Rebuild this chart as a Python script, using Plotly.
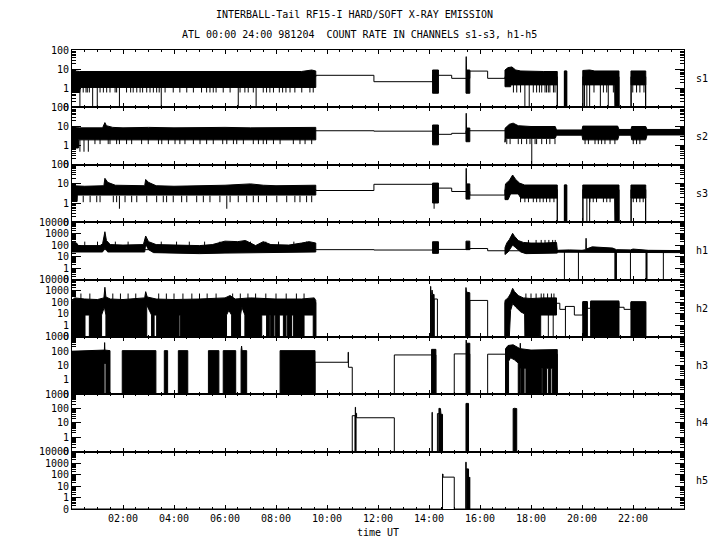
import plotly.graph_objects as go
from plotly.subplots import make_subplots

# ---------------- DATA (hours UT, count rates; 0 = no counts) ----------------
panels = ['s1', 's2', 's3', 'h1', 'h2', 'h3', 'h4', 'h5']
top_decade = [2, 2, 2, 4, 4, 3, 3, 4]

# ---- s1 ----
s1_step_t = [0, 9.56, 11.84, 14.14, 14.37, 14.89, 15.45, 15.6, 16.3, 16.98, 19.03, 19.31, 19.40, 20.03, 21.45, 21.92, 22.5, 24]
s1_step_v = [4, 4.75, 2.2, 4.75, 4.75, 3.3, 3.3, 7.9, 3.3, 4, 0, 7.9, 0, 4, 0, 4, 0, 0]
s1_up_t = [0, 0.1, 0.3, 0.8, 1.3, 2.0, 3.0, 4.0, 5.0, 6.0, 7.0, 8.0, 9.0, 9.4, 9.56, None,
           14.14, 14.37, None,
           15.45, 15.46, 15.47, 15.6, None,
           16.98, 17.1, 17.25, 17.4, 17.6, 18.0, 18.5, 19.03, None,
           19.31, 19.40, None,
           20.03, 20.3, 20.5, 21.0, 21.45, None,
           21.92, 22.5]
s1_up_v = [10, 8, 7.5, 7.5, 8, 7.5, 7.5, 7.5, 7.5, 8, 7.5, 7.5, 7.5, 9, 8, None,
           9, 9, None,
           9, 45, 9, 9, None,
           9, 12, 13, 9, 8, 7.5, 7.5, 7.5, None,
           7.9, 7.9, None,
           8.5, 9, 8, 8, 8, None,
           8, 8]
s1_lo_t = [0, 0.3, 0.32, 9.56, None, 14.14, 14.37, None, 15.45, 15.6, None,
           16.98, 17.2, 17.21, 19.03, None, 19.31, 19.40, None,
           20.03, 21.28, 21.29, 21.45, None, 21.92, 22.5]
s1_lo_v = [0.6, 0.6, 1.1, 1.1, None, 0.55, 0.55, None, 0.55, 0.55, None,
           1.2, 1.2, 1.5, 1.5, None, 0, 0, None,
           1.5, 1.5, 0, 0, None, 1.5, 1.5]
s1_teeth_t = [0.44, 0.55, 0.60, 0.68, 1.10, 1.23, 1.36, 1.49, 1.69, 1.75, 2.14, 2.30, 2.40, 2.54, 2.67, 2.77,
              2.93, 3.06, 3.19, 3.32, 3.42, 3.65, 3.97, 4.23, 4.50, 4.76, 5.08, 5.28, 5.41, 5.54, 5.65, 5.93,
              6.20, 6.59, 6.78, 6.91, 7.11, 7.50, 7.63, 7.76, 7.90, 8.13, 8.26, 8.39, 8.55, 8.74, 9.01, 9.33, 9.46,
              17.31, 17.44, 17.59, 18.09, 18.22, 18.33, 18.42, 18.55, 18.61, 18.68, 18.74, 18.88, 18.94,
              20.47, 20.84, 20.97, 21.23, 21.99, 22.14, 22.27, 22.43]
s1_teeth_span = (1.5, 0.6)
s1_drop_t = [0.31, 0.81, 0.99, 1.86, 3.50, 6.52, 7.22, 17.76, 17.93, 19.03, 20.04, 20.1, 20.19, 20.3,
             20.72, 21.03, 21.93, 22.49]
s1_drop_span = (1.5, 0)

# ---- s2 ----
s2_step_t = [0, 9.56, 11.84, 14.14, 14.37, 14.89, 15.45, 15.6, 16.98, 24]
s2_step_v = [6, 6.0, 5.7, 5, 3.9, 4.4, 6, 6.0, 6, 6]
s2_up_t = [0, 0.3, 1.2, 1.29, 1.35, 1.6, 2.0, 3.0, 4.0, 5.0, 6.0, 7.0, 8.0, 9.0, 9.56, None,
           14.14, 14.37, None,
           15.45, 15.46, 15.47, 15.6, None,
           16.98, 17.15, 17.3, 17.5, 18.0, 18.95, 19.0, 20.0, 20.03, 21.4, 21.45, 21.92, 21.95, 22.5, 22.55, 24]
s2_up_v = [9, 8.5, 8.5, 16, 11, 9, 8.5, 9, 8.5, 9, 9, 8.5, 9, 9, 9, None,
           12, 12, None,
           8.3, 49, 8.3, 8.3, None,
           8, 13, 15, 11, 10, 10, 6.6, 6.6, 10.5, 10.5, 7, 7, 10, 10, 7, 7]
s2_lo_t = [0, 0.25, 0.26, 9.56, None, 14.14, 14.37, None, 15.45, 15.6, None,
           16.98, 17.0, 18.95, 19.0, 20.0, 20.03, 21.4, 21.45, 21.92, 21.95, 22.5, 22.55, 24]
s2_lo_v = [0.75, 0.75, 2.0, 2.0, None, 1.1, 1.1, None, 1.6, 1.6, None,
           1.5, 2.4, 2.4, 3.5, 3.5, 2.0, 2.0, 3.5, 3.5, 2.0, 2.0, 3.6, 3.6]
s2_teeth_t = [0.90, 1.10, 1.42, 1.49, 1.75, 1.86, 2.14, 2.34, 2.73, 2.99, 3.39, 3.52, 3.78, 4.04, 4.23, 4.43,
              4.76, 5.02, 5.28, 5.54, 5.91, 6.07, 6.33, 6.46, 6.72, 7.11, 7.31, 7.50, 7.63, 7.90, 8.16, 8.68,
              8.94, 9.14, 9.40,
              17.05, 17.18, 17.5, 17.63, 17.83, 17.96, 18.16, 18.22, 18.42, 18.61, 18.74, 18.94,
              20.12, 20.25, 20.51, 20.64, 20.77, 20.90, 21.10, 21.29, 22.01, 22.14, 22.27]
s2_teeth_span = (2.2, 1.2)
s2_deep_t = [0.31, 0.47, 0.64]
s2_deep_span = (2.0, 0.48)
s2_drop_t = [18.03]
s2_drop_span = (2.4, 0)

# ---- s3 ----
s3_step_t = [0, 9.56, 11.84, 14.14, 14.37, 14.89, 15.45, 15.6, 16.98, 19.03, 19.31, 19.40, 20.03, 21.45, 21.92, 22.5, 24]
s3_step_v = [5, 4.5, 9.5, 6, 6.0, 4.0, 4, 2.6, 5, 0, 8.7, 0, 5, 0, 5, 0, 0]
s3_up_t = [0, 0.5, 1.25, 1.29, 1.4, 1.7, 2.85, 2.89, 3.0, 3.3, 4.0, 5.0, 6.0, 7.0, 7.5, 8.0, 9.0, 9.56, None,
           14.14, 14.37, None,
           15.45, 15.46, 15.47, 15.6, None,
           16.98, 17.0, 17.15, 17.28, 17.4, 17.55, 17.75, 18.5, 19.03, None,
           19.31, 19.40, None,
           20.03, 21.45, None,
           21.92, 22.5]
s3_up_v = [8, 7.5, 8, 19.5, 12, 8.5, 8, 17, 12, 8, 7.5, 8, 8.5, 10, 8.5, 8, 8, 8.5, None,
           11, 11, None,
           10, 65, 10, 10, None,
           5, 10, 15, 29, 17, 11, 8.7, 8.7, 8.7, None,
           8.7, 8.7, None,
           8.7, 8.7, None,
           8.7, 8.7]
s3_lo_t = [0, 0.2, 0.21, 9.56, None, 14.14, 14.37, None, 15.45, 15.6, None,
           16.98, 17.1, 17.2, 17.5, 17.6, 19.03, None, 19.31, 19.40, None,
           20.03, 21.28, 21.29, 21.45, None, 21.92, 22.5]
s3_lo_v = [1.2, 1.2, 2.6, 2.6, None, 1.0, 1.0, None, 1.6, 1.6, None,
           1.5, 1.5, 3, 3, 1.8, 1.8, None, 0, 0, None,
           1.8, 1.8, 0, 0, None, 1.8, 1.8]
s3_teeth_t = [0.44, 0.71, 0.97, 1.10, 1.62, 1.75, 2.08, 2.34, 2.54, 2.93, 3.32, 3.58, 3.71, 3.97, 4.30, 4.50,
              4.89, 5.15, 5.41, 5.80, 6.20, 6.52, 6.85, 7.11, 7.31, 7.63, 8.03, 8.42, 8.74, 8.94, 9.20, 9.40,
              17.59, 17.76, 17.90, 18.09, 18.22, 18.35, 18.48, 18.61, 18.74, 18.90,
              20.31, 20.44, 20.57, 20.84, 20.97, 21.10, 22.01, 22.14, 22.27, 22.40]
s3_teeth_span = (2.4, 1.1)
s3_deep_t = [1.86, 6.07, 14.2]
s3_deep_span = (2.4, 0.5)
s3_drop_t = [19.03, 20.04, 20.19, 20.3, 21.93, 22.49]
s3_drop_span = (1.8, 0)

# ---- h1 ----
h1_step_t = [0, 9.56, 11.84, 14.14, 14.37, 15.45, 15.6, 16.3, 16.98, 24]
h1_step_v = [40, 40, 37, 42, 42, 42, 50, 32, 32, 30]
h1_up_t = [0, 0.18, 0.25, 1.1, 1.2, 1.29, 1.35, 1.5, 2.0, 2.8, 2.89, 3.0, 3.3, 4.0, 5.0, 5.5, 6.0, 6.5, 6.8, 7.2,
           7.5, 7.8, 8.5, 9.0, 9.3, 9.56, None,
           14.14, 14.37, None,
           15.45, 15.6, None,
           16.98, 17.05, 17.15, 17.28, 17.35, 17.5, 17.7, 18.0, 18.5, 19.0, 19.03, None,
           19.03, 19.5, 20.0, 20.15, 20.16, 20.17, 20.4, 20.8, 21.2, 21.35, 21.9, 22.0, 22.4, 22.6, 24]
h1_up_v = [200, 150, 90, 90, 130, 1450, 250, 110, 100, 110, 620, 200, 110, 100, 90, 110, 220, 200, 250, 90,
           200, 110, 100, 150, 200, 150, None,
           195, 195, None,
           220, 220, None,
           60, 150, 300, 1050, 600, 250, 170, 150, 150, 170, 40, None,
           35, 38, 35, 40, 390, 45, 70, 65, 55, 40, 38, 45, 42, 35, 33]
h1_lo_t = [0, 1.2, 1.29, 1.4, 2.85, 2.89, 3.0, 3.2, 5.0, 6.0, 9.56, None,
           14.14, 14.37, None, 15.45, 15.6, None,
           16.98, 17.1, 17.28, 17.4, 17.6, 17.8, 19.03, None,
           19.03, 24]
h1_lo_v = [25, 25, 60, 25, 25, 120, 40, 22, 18, 20, 25, None,
           19, 19, None, 40, 40, None,
           15, 25, 100, 60, 25, 18, 20, None,
           24, 22]
h1_spike_t = [0.5, 1.0, 1.7, 2.2, 3.5, 4.1, 4.6, 5.2, 5.8, 6.3, 7.0, 7.6, 8.1, 8.7, 9.2]
h1_spike_span = (90, 200)
h1_spike2_t = [17.9, 18.2, 18.4, 18.55, 18.7, 18.85, 18.95]
h1_spike2_span = (150, 280)
h1_drop_t = [19.31, 19.86, 21.29, 21.31, 21.33, 21.35, 21.9, 22.51, 22.53, 22.55, 23.19]
h1_drop_span = (25, 0)

# ---- h2 ----
h2_step_t = [0, 9.56, 14.06, 14.07, 14.2, 14.33, 15.44, 15.6, 16.3, 16.98, 19.0, 19.13, 19.35, 19.7, 20.03,
             20.21, 20.34, 21.45, 21.65, 21.92, 22.5, 24]
h2_step_v = [100, 0, 2500, 0, 200, 0, 0, 150, 0, 100, 85, 25, 45, 8, 100, 31, 100, 38, 25, 100, 0, 0]
h2_up_t = [0, 0.1, 0.5, 1.0, 1.25, 1.29, 1.33, 1.5, 2.0, 2.85, 2.89, 2.95, 3.3, 4.0, 5.0, 6.0, 6.2, 6.4, 7.0,
           8.0, 9.0, 9.5, 9.56, None,
           14.10, 14.12, 14.14, 14.2, None,
           15.44, 15.45, 15.47, 15.6, None,
           16.98, 17.1, 17.2, 17.28, 17.35, 17.5, 17.7, 18.0, 18.5, 19.0, None,
           20.03, 20.21, None,
           20.34, 21.45, None,
           21.92, 22.5]
h2_up_v = [150, 250, 200, 180, 250, 2100, 300, 200, 180, 250, 870, 300, 200, 180, 200, 250, 400, 200, 250,
           200, 200, 250, 150, None,
           500, 1200, 500, 500, None,
           800, 2000, 800, 700, None,
           150, 250, 600, 1700, 900, 400, 250, 220, 250, 250, None,
           120, 120, None,
           135, 135, None,
           117, 117]
h2_lo_t = [0, 0.51, 0.51, 0.68, 0.68, 1.16, 1.16, 1.27, 1.33, 1.33, 2.93, 2.93, 3.12, 3.12, 3.22, 3.22,
           3.32, 3.32, 4.20, 4.20, 4.25, 4.25, 6.06, 6.06, 6.15, 6.26, 6.26, 6.61, 6.61, 6.66, 6.78, 6.78,
           7.44, 7.44, 7.63, 7.63, 7.74, 7.74, 7.79, 7.79, 7.92, 7.92, 7.97, 7.97, 8.13, 8.13, 8.29, 8.29,
           8.39, 8.39, 8.44, 8.44, 8.61, 8.61, 8.68, 8.68, 9.10, 9.10, 9.46, 9.46, 9.56, None,
           14.10, 14.2, None,
           15.44, 15.6, None,
           16.98, 17.15, 17.2, 17.28, 17.4, 17.6, 17.75, 17.76, 18.35, 18.36, 19.0, None,
           20.03, 20.21, None,
           20.34, 21.45, None,
           21.92, 22.5]
h2_lo_v = [0, 0, 8, 8, 0, 0, 8, 40, 8, 0, 0, 60, 8, 0, 0, 8,
           8, 0, 0, 8, 8, 0, 0, 8, 20, 8, 0, 0, 8, 40, 8, 0,
           0, 8, 8, 0, 0, 8, 8, 0, 0, 8, 8, 0, 0, 8, 8, 0,
           0, 8, 8, 0, 0, 8, 8, 0, 0, 8, 8, 0, 0, None,
           0, 0, None,
           0, 0, None,
           0, 0, 20, 80, 40, 15, 10, 0, 0, 8, 8, None,
           0, 0, None,
           0, 0, None,
           0, 0]
h2_spike_t = [0.35, 0.7, 1.6, 1.9, 2.2, 2.5, 3.4, 3.7, 4.0, 4.35, 4.7, 5.0, 5.3, 5.65, 6.3, 6.6, 6.9, 7.2,
              7.6, 8.0, 8.4, 8.8, 9.1, 17.8, 18.0, 18.2, 18.4, 18.5, 18.65, 18.8, 18.9]
h2_spike_span = (200, 600)
h2_drop_t = [18.38, 18.68, 18.87, 19.35]
h2_drop_span = (45, 0)

# ---- h3 ----
h3_step_t = [0, 9.53, 10.83, 10.84, 10.99, 12.64, 14.1, 14.27, 14.99, 15.45, 15.6, 16.3, 17.0, 19.03, 24]
h3_step_v = [0, 17, 85, 7.6, 0, 55, 55, 0, 65, 65, 0, 62, 62, 0, 0]
h3_up_t = [0, 1.2, 1.27, 1.28, 1.29, 1.49, None, 1.97, 3.29, None, 3.62, 3.75, None, 4.17, 4.54, None,
           5.35, 5.76, None, 5.93, 6.42, None, 6.63, 6.65, 6.67, 6.85, None, 8.16, 9.53, None,
           14.1, 14.27, None, 15.45, 15.46, 15.47, 15.6, None,
           17.0, 17.1, 17.3, 17.45, 17.57, 17.58, 17.59, 18.0, 18.5, 19.03]
h3_up_v = [100, 110, 120, 400, 120, 110, None, 110, 110, None, 110, 110, None, 110, 110, None,
           110, 110, None, 110, 110, None, 110, 230, 110, 110, None, 110, 110, None,
           135, 135, None, 360, 600, 360, 360, None,
           150, 250, 280, 200, 150, 360, 150, 120, 130, 130]
h3_lo_t = [0, 1.26, 1.26, 1.33, 1.33, 1.49, None, 1.97, 3.29, None, 3.62, 3.75, None, 4.17, 4.54, None,
           5.35, 5.76, None, 5.93, 6.42, None, 6.63, 6.85, None, 8.16, 9.53, None,
           14.1, 14.27, None, 15.45, 15.6, None,
           17.0, 17.12, 17.12, 17.2, 17.35, 17.5, 17.5, 17.57, 17.57, 17.6, 17.6, 17.73, 17.73, 17.8, 17.8,
           18.42, 18.42, 18.46, 18.46, 18.61, 18.61, 18.68, 18.68, 18.78, 18.78, 18.84, 18.84, 19.03]
h3_lo_v = [0, 0, 14, 14, 0, 0, None, 0, 0, None, 0, 0, None, 0, 0, None,
           0, 0, None, 0, 0, None, 0, 0, None, 0, 0, None,
           0, 0, None, 0, 0, None,
           0, 0, 20, 35, 25, 15, 0, 0, 6.5, 6.5, 0, 0, 6.5, 6.5, 0,
           0, 6.5, 6.5, 0, 0, 6.5, 6.5, 0, 0, 6.5, 6.5, 0, 0]

# ---- h4 ----
h4_step_t = [0, 10.99, 11.1, 11.11, 11.12, 11.14, 11.16, 12.64, 14.12, 14.13, 14.33, 14.39, 24]
h4_step_v = [0, 32, 0, 124, 0, 47, 23, 0, 55, 0, 45, 0, 0]
h4_up_t = [14.39, 14.45, 14.47, 14.53, None, 15.45, 15.55, None, 17.3, 17.35, 17.44]
h4_up_v = [105, 100, 40, 40, None, 230, 230, None, 100, 105, 100]
h4_lo_t = [14.39, 14.53, None, 15.45, 15.55, None, 17.3, 17.44]
h4_lo_v = [0, 0, None, 0, 0, None, 0, 0]

# ---- h5 ----
h5_step_t = [0, 14.53, 14.55, 14.99, 15.44, 15.46, 15.55, 15.59, 15.6, 24]
h5_step_v = [0, 112, 60, 0, 1200, 300, 0, 60, 0, 0]
h5_up_t = [15.46, 15.55]
h5_up_v = [300, 300]
h5_lo_t = [15.46, 15.55]
h5_lo_v = [0, 0]

hour_ticks = [2, 4, 6, 8, 10, 12, 14, 16, 18, 20, 22]
hour_labels = ['02:00', '04:00', '06:00', '08:00', '10:00', '12:00', '14:00', '16:00', '18:00', '20:00', '22:00']

title1 = 'INTERBALL-Tail RF15-I HARD/SOFT X-RAY EMISSION'
title2 = 'ATL 00:00 24:00 981204\u00a0\u00a0COUNT RATE IN CHANNELS s1-s3, h1-h5'

# ---------------- helpers ----------------
FLOOR = 0.1  # the "0" level on each log axis
FONT = 'DejaVu Sans Mono'


def fl(v):
    return None if v is None else max(v, FLOOR)


def segments(t, v):
    segs, cur = [], []
    for a, b in zip(t, v):
        if a is None:
            if cur:
                segs.append(cur)
            cur = []
        else:
            cur.append((a, b))
    if cur:
        segs.append(cur)
    return segs


def band_trace(up_t, up_v, lo_t, lo_v):
    xs, ys = [], []
    for su, sl in zip(segments(up_t, up_v), segments(lo_t, lo_v)):
        pts = su + sl[::-1] + [su[0]]
        xs += [p[0] for p in pts] + [None]
        ys += [fl(p[1]) for p in pts] + [None]
    return go.Scatter(x=xs, y=ys, mode='lines', fill='toself', fillcolor='black',
                      line=dict(color='black', width=1), hoverinfo='skip', showlegend=False)


def step_trace(t, v):
    return go.Scatter(x=t, y=[fl(x) for x in v], mode='lines', line_shape='hv',
                      line=dict(color='black', width=1), hoverinfo='skip', showlegend=False)


def vline_trace(groups):
    xs, ys = [], []
    for ts, (a, b) in groups:
        for t in ts:
            xs += [t, t, None]
            ys += [fl(a), fl(b), None]
    return go.Scatter(x=xs, y=ys, mode='lines', line=dict(color='black', width=1),
                      hoverinfo='skip', showlegend=False)


D = globals()
vgroups = {
    's1': [(s1_teeth_t, s1_teeth_span), (s1_drop_t, s1_drop_span)],
    's2': [(s2_teeth_t, s2_teeth_span), (s2_deep_t, s2_deep_span), (s2_drop_t, s2_drop_span)],
    's3': [(s3_teeth_t, s3_teeth_span), (s3_deep_t, s3_deep_span), (s3_drop_t, s3_drop_span)],
    'h1': [(h1_spike_t, h1_spike_span), (h1_spike2_t, h1_spike2_span), (h1_drop_t, h1_drop_span)],
    'h2': [(h2_spike_t, h2_spike_span), (h2_drop_t, h2_drop_span)],
    'h3': [], 'h4': [], 'h5': [],
}

fig = make_subplots(rows=8, cols=1, shared_xaxes=True, vertical_spacing=0)

for i, (p, dec) in enumerate(zip(panels, top_decade), start=1):
    fig.add_trace(step_trace(D[p + '_step_t'], D[p + '_step_v']), row=i, col=1)
    fig.add_trace(band_trace(D[p + '_up_t'], D[p + '_up_v'], D[p + '_lo_t'], D[p + '_lo_v']), row=i, col=1)
    if vgroups[p]:
        fig.add_trace(vline_trace(vgroups[p]), row=i, col=1)

    major = [10.0 ** k for k in range(-1, dec + 1)]
    labels = ['0'] + [str(10 ** k) for k in range(0, dec + 1)]
    minor = [m * 10.0 ** k for k in range(-1, dec) for m in range(2, 10)]
    fig.update_yaxes(row=i, col=1, type='log', range=[-1, dec], tickmode='array',
                     tickvals=major, ticktext=labels, ticks='inside', ticklen=9, tickwidth=1,
                     tickcolor='black',
                     minor=dict(tickmode='array', tickvals=minor, ticks='inside', ticklen=4,
                                tickwidth=1, tickcolor='black', showgrid=False),
                     showgrid=False, zeroline=False, showline=True, linecolor='black', linewidth=1,
                     mirror='allticks', tickfont=dict(family=FONT, size=10, color='black'))
    fig.update_xaxes(row=i, col=1, range=[0, 24], tickmode='array', tickvals=hour_ticks,
                     ticktext=hour_labels, ticks='inside', ticklen=4, tickwidth=1, tickcolor='black',
                     minor=dict(tickmode='linear', tick0=0, dtick=0.5, ticks='inside', ticklen=2,
                                tickwidth=1, tickcolor='black', showgrid=False),
                     showgrid=False, zeroline=False, showline=True, linecolor='black', linewidth=1,
                     mirror='allticks', tickfont=dict(family=FONT, size=10, color='black'))
    fig.add_annotation(text=p, xref='paper', x=1, xanchor='left', xshift=10,
                       yref=f'y{"" if i == 1 else i} domain', y=0.5, yanchor='middle',
                       showarrow=False, font=dict(family=FONT, size=10, color='black'))

fig.add_annotation(text=title1, xref='paper', x=(354 - 72) / 612, xanchor='center',
                   yref='paper', y=1, yanchor='middle', yshift=36, showarrow=False,
                   font=dict(family=FONT, size=10, color='black'))
fig.add_annotation(text=title2, xref='paper', x=(359 - 72) / 612, xanchor='center',
                   yref='paper', y=1, yanchor='middle', yshift=16, showarrow=False,
                   font=dict(family=FONT, size=10, color='black'))
fig.add_annotation(text='time UT', xref='paper', x=0.5, xanchor='center',
                   yref='paper', y=0, yanchor='middle', yshift=-23, showarrow=False,
                   font=dict(family=FONT, size=10, color='black'))

# the page has an 8px body margin, so the figure is 8px smaller and its
# left/top margins are 8px smaller, leaving the plot area at x 72-684, y 50-509
fig.update_layout(width=712, height=542, margin=dict(l=64, r=36, t=42, b=41),
                  paper_bgcolor='white', plot_bgcolor='white', showlegend=False)

fig.write_html('out.html')
